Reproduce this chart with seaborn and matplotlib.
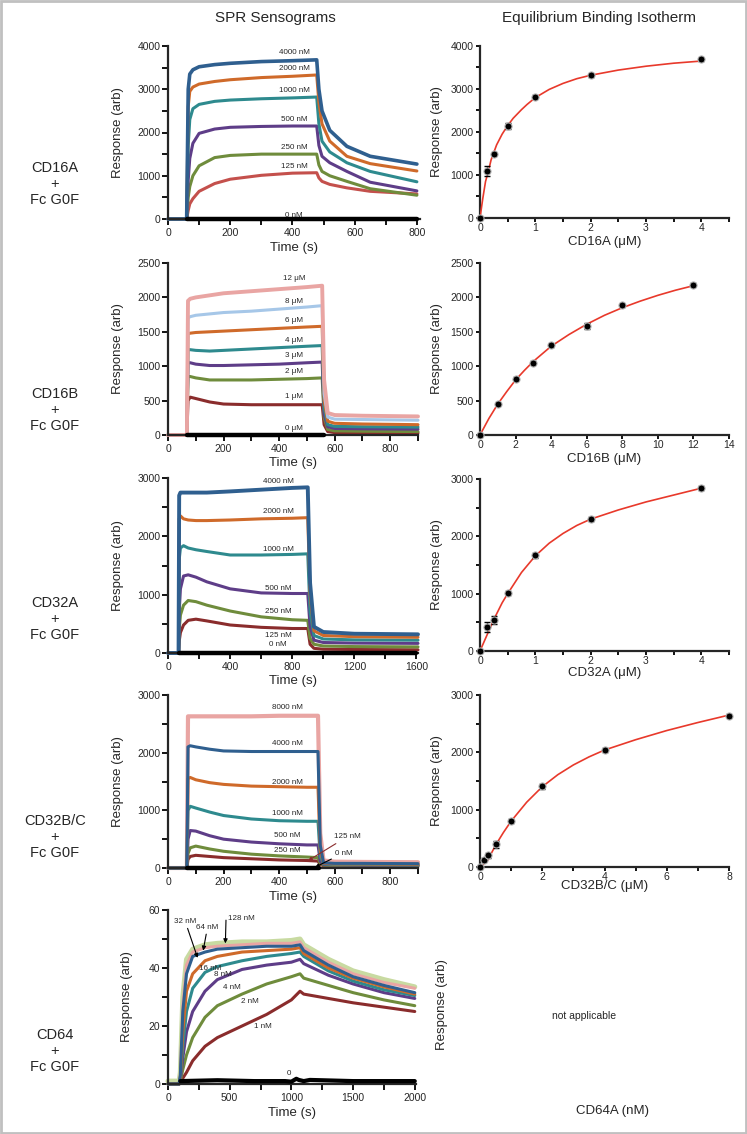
import numpy as np
import matplotlib
matplotlib.use("Agg")
import matplotlib.pyplot as plt
import seaborn as sns
from matplotlib.ticker import MultipleLocator
from matplotlib.patches import Rectangle

# ---- data ----
# CD16A + Fc G0F sensograms (nM)
t_16a = [0, 60, 65, 70, 80, 100, 150, 200, 300, 400, 478, 485, 495, 520, 575, 650, 800]
r_16a_4000 = [0, 0, 3000, 3350, 3450, 3520, 3570, 3600, 3640, 3660, 3680, 3000, 2500, 2050, 1680, 1450, 1270]
r_16a_2000 = [0, 0, 2600, 2950, 3050, 3120, 3180, 3220, 3270, 3300, 3330, 2700, 2200, 1800, 1450, 1280, 1110]
r_16a_1000 = [0, 0, 1700, 2300, 2550, 2650, 2720, 2750, 2780, 2800, 2820, 2200, 1800, 1550, 1300, 1100, 860]
r_16a_500 = [0, 0, 900, 1400, 1750, 1980, 2080, 2120, 2140, 2150, 2150, 1700, 1450, 1300, 1100, 850, 650]
r_16a_250 = [0, 0, 500, 750, 1000, 1230, 1420, 1470, 1500, 1500, 1500, 1250, 1100, 1000, 870, 700, 550]
r_16a_125 = [0, 0, 200, 350, 470, 640, 820, 920, 1010, 1060, 1070, 950, 870, 800, 720, 640, 580]
lab_16a = ["4000 nM", "2000 nM", "1000 nM", "500 nM", "250 nM", "125 nM", "0 nM"]
lab_16a_y = [3860, 3480, 2980, 2290, 1645, 1205, 85]

# CD16B + Fc G0F sensograms (uM)
t_16b = [0, 68, 72, 80, 100, 150, 200, 300, 400, 500, 555, 562, 575, 600, 700, 900]
r_16b_12 = [0, 0, 1950, 1980, 2000, 2030, 2060, 2090, 2120, 2150, 2170, 800, 320, 290, 280, 270]
r_16b_8 = [0, 0, 1700, 1720, 1740, 1760, 1780, 1800, 1830, 1860, 1880, 600, 260, 230, 225, 215]
r_16b_6 = [0, 0, 1470, 1480, 1490, 1500, 1510, 1530, 1550, 1570, 1580, 500, 200, 170, 160, 150]
r_16b_4 = [0, 0, 1240, 1240, 1230, 1220, 1230, 1250, 1270, 1290, 1300, 400, 150, 125, 120, 115]
r_16b_3 = [0, 0, 1050, 1050, 1030, 1010, 1010, 1020, 1030, 1050, 1060, 300, 120, 95, 90, 85]
r_16b_2 = [0, 0, 850, 850, 830, 800, 800, 800, 810, 820, 830, 250, 80, 60, 55, 50]
r_16b_1 = [0, 0, 500, 550, 530, 480, 450, 440, 440, 440, 440, 150, 50, 35, 30, 30]
lab_16b = ["12 \u03bcM", "8 \u03bcM", "6 \u03bcM", "4 \u03bcM", "3 \u03bcM", "2 \u03bcM", "1 \u03bcM", "0 \u03bcM"]
lab_16b_y = [2280, 1935, 1670, 1380, 1150, 920, 560, 100]

# CD32A + Fc G0F sensograms (nM)
t_32a = [0, 68, 72, 80, 100, 130, 180, 250, 400, 600, 800, 900, 915, 940, 1000, 1200, 1610]
r_32a_4000 = [0, 0, 2700, 2750, 2750, 2750, 2750, 2750, 2770, 2800, 2830, 2840, 1200, 450, 360, 330, 320]
r_32a_2000 = [0, 0, 2300, 2350, 2300, 2280, 2270, 2270, 2280, 2300, 2310, 2320, 1000, 380, 300, 280, 270]
r_32a_1000 = [0, 0, 1600, 1800, 1840, 1800, 1770, 1740, 1680, 1680, 1690, 1700, 700, 300, 240, 225, 220]
r_32a_500 = [0, 0, 700, 1100, 1320, 1340, 1300, 1220, 1100, 1030, 1020, 1020, 450, 220, 180, 170, 165]
r_32a_250 = [0, 0, 400, 650, 820, 900, 880, 820, 720, 620, 570, 560, 250, 150, 120, 110, 105]
r_32a_125 = [0, 0, 200, 350, 480, 560, 580, 550, 480, 440, 420, 420, 150, 80, 65, 60, 55]
lab_32a = ["4000 nM", "2000 nM", "1000 nM", "500 nM", "250 nM", "125 nM", "0 nM"]
lab_32a_y = [2940, 2430, 1770, 1110, 710, 300, 140]

# CD32B/C + Fc G0F sensograms (nM)
t_32b = [0, 68, 72, 80, 100, 150, 200, 300, 400, 500, 540, 548, 560, 600, 700, 900]
r_32b_8000 = [0, 0, 2630, 2630, 2630, 2630, 2630, 2630, 2640, 2640, 2640, 600, 130, 110, 105, 100]
r_32b_4000 = [0, 0, 2100, 2120, 2100, 2060, 2030, 2020, 2020, 2020, 2020, 400, 90, 80, 80, 75]
r_32b_2000 = [0, 0, 1550, 1570, 1530, 1480, 1450, 1420, 1410, 1400, 1400, 300, 80, 70, 70, 65]
r_32b_1000 = [0, 0, 1000, 1070, 1040, 970, 910, 850, 820, 810, 810, 200, 70, 60, 60, 55]
r_32b_500 = [0, 0, 500, 650, 640, 560, 500, 450, 420, 400, 400, 120, 60, 55, 50, 50]
r_32b_250 = [0, 0, 250, 350, 380, 330, 290, 240, 210, 190, 180, 80, 50, 45, 45, 40]
r_32b_125 = [0, 0, 150, 200, 220, 200, 180, 160, 140, 130, 120, 60, 40, 35, 35, 30]
lab_32b = ["8000 nM", "4000 nM", "2000 nM", "1000 nM", "500 nM", "250 nM"]
lab_32b_y = [2785, 2160, 1490, 950, 555, 310]

# CD64 + Fc G0F sensograms (nM)
t_64 = [0, 90, 100, 120, 150, 200, 300, 400, 600, 800, 1000, 1070, 1100, 1300, 1500, 1750, 2000]
r_64_128 = [1, 1, 4, 30, 43, 46.5, 48, 48.5, 49, 49, 49.5, 50, 48, 43, 39, 36, 33.5]
r_64_64 = [0, 0, 3, 27, 41, 45.5, 47, 47.5, 48, 48.5, 48.5, 49, 47, 42, 38, 35, 33]
r_64_32 = [0, 0, 3, 25, 38, 44, 45.5, 46.5, 47, 47.5, 47.5, 48, 46, 41, 37, 34, 31.5]
r_64_16 = [0, 0, 2, 18, 32, 38, 42.5, 44, 45.5, 46, 46.5, 47, 45, 40, 36.5, 33.5, 31]
r_64_8 = [0, 0, 2, 13, 25, 33, 38.5, 40.5, 42.5, 44, 45, 45.5, 44, 39, 35.5, 32.5, 30.5]
r_64_4 = [0, 0, 1.5, 9, 18, 25, 32, 36, 39.5, 41, 42, 43, 41.5, 37.5, 34.5, 31.5, 29.5]
r_64_2 = [0, 0, 1, 5, 10, 16, 23, 27, 31, 34.5, 37, 38, 36.5, 34, 31.5, 29, 27]
r_64_1 = [0, 0, 0.5, 2, 4, 8, 13, 16, 20, 24, 29, 32, 31, 29.5, 28, 26.5, 25]
t_64_zero = [100, 400, 700, 950, 1000, 1040, 1060, 1100, 1150, 1500, 2000]
r_64_zero = [1, 1.3, 1, 1, 0.8, 1.8, 1.4, 1, 1.4, 1, 1]

# equilibrium binding isotherms
c_16a = [0, 0.125, 0.25, 0.5, 1, 2, 4]
eq_16a = [0, 1090, 1490, 2130, 2820, 3320, 3690]
err_16a = [0, 120, 30, 70, 40, 30, 30]
fit_x_16a = [0, 0.05, 0.1, 0.15, 0.2, 0.3, 0.4, 0.5, 0.6, 0.75, 0.85, 1, 1.25,
             1.5, 1.75, 2, 2.5, 3, 3.5, 4]
fit_y_16a = [0, 450, 850, 1080, 1350, 1700, 1950, 2150, 2320, 2520, 2640, 2800,
             2990, 3130, 3240, 3320, 3440, 3530, 3600, 3650]

c_16b = [0, 1, 2, 3, 4, 6, 8, 12]
eq_16b = [0, 450, 820, 1050, 1305, 1585, 1885, 2185]
err_16b = [0, 20, 20, 20, 20, 40, 20, 25]
fit_x_16b = [0, 0.5, 1, 1.5, 2, 2.5, 3, 4, 5, 6, 7, 8, 9, 10, 11, 12]
fit_y_16b = [0, 240, 450, 630, 800, 940, 1070, 1290, 1460, 1610, 1740, 1850,
             1945, 2030, 2105, 2170]

c_32a = [0, 0.125, 0.25, 0.5, 1, 2, 4]
eq_32a = [0, 420, 540, 1015, 1670, 2305, 2845]
err_32a = [0, 80, 70, 40, 40, 30, 40]
fit_x_32a = [0, 0.1, 0.25, 0.4, 0.5, 0.75, 1, 1.25, 1.5, 1.75, 2, 2.5, 3, 3.5, 4]
fit_y_32a = [0, 220, 550, 840, 1000, 1370, 1660, 1880, 2050, 2190, 2300, 2460,
             2600, 2720, 2840]

c_32b = [0, 0.125, 0.25, 0.5, 1, 2, 4, 8]
eq_32b = [0, 130, 205, 400, 805, 1405, 2040, 2640]
err_32b = [0, 20, 40, 60, 30, 40, 30, 20]
fit_x_32b = [0, 0.25, 0.5, 0.75, 1, 1.5, 2, 2.5, 3, 3.5, 4, 5, 6, 7, 8]
fit_y_32b = [0, 120, 380, 600, 800, 1130, 1400, 1610, 1780, 1920, 2040, 2220,
             2380, 2520, 2650]

row_labels = ["CD16A\n+\nFc G0F", "CD16B\n+\nFc G0F", "CD32A\n+\nFc G0F",
              "CD32B/C\n+\nFc G0F", "CD64\n+\nFc G0F"]

# ---- colours ----
BLUE, ORANGE, TEAL = "#2f5f8f", "#cf6a2a", "#2e8a8e"
PURPLE, GREEN = "#5e3d88", "#6f8c3c"
RED, DRED = "#c4504c", "#8a2c2c"
PINK, LBLUE, LGREEN = "#e9a5a3", "#a6c7e8", "#c8daa1"
FITRED = "#e8392b"

W, H = 747, 1134
sns.set_style("ticks")
plt.rcParams["font.family"] = ["Liberation Sans", "DejaVu Sans"]
plt.rcParams["axes.linewidth"] = 1.6

fig = plt.figure(figsize=(W / 100, H / 100), dpi=100)


def box(l, t, r, b):
    return [l / W, 1 - b / H, (r - l) / W, (b - t) / H]


def style(ax, xmaj, xmin, ymaj, ymin, pad, tlen=4):
    sns.despine(ax=ax)
    ax.xaxis.set_major_locator(MultipleLocator(xmaj))
    ax.xaxis.set_minor_locator(MultipleLocator(xmin))
    ax.yaxis.set_major_locator(MultipleLocator(ymaj))
    ax.yaxis.set_minor_locator(MultipleLocator(ymin))
    ax.tick_params(which="both", direction="out", length=tlen, width=1.3,
                   labelsize=7.5, color="black", pad=pad)
    ax.tick_params(axis="y", pad=1.5)
    ax.set_facecolor("white")


def labels(ax, xlab, ylab, ylx, xly):
    ax.set_xlabel(xlab, fontsize=9.5)
    ax.set_ylabel(ylab, fontsize=9.5)
    ax.yaxis.set_label_coords(ylx, 0.5)
    ax.xaxis.set_label_coords(0.5, xly)
    ax.xaxis.label.set_va("center")
    ax.yaxis.label.set_va("center")


def sensogram(ax, t, series, lw=2.2):
    for vals, col, w in series:
        sns.lineplot(x=t, y=vals, ax=ax, color=col, lw=w if w else lw,
                     clip_on=False)


def zero_line(ax, t0, t1):
    sns.lineplot(x=[t0, t1], y=[0, 0], ax=ax, color="black", lw=3.2,
                 clip_on=False, zorder=6)


def curve_labels(ax, x, texts, ys):
    for s, y in zip(texts, ys):
        ax.text(x, y, s, fontsize=5.8, ha="center", va="center")


# ---- panel 1: CD16A ----
ax = fig.add_axes(box(168, 46, 420, 219))
sensogram(ax, t_16a, [(r_16a_125, RED, None), (r_16a_250, GREEN, None),
                      (r_16a_500, PURPLE, None), (r_16a_1000, TEAL, None),
                      (r_16a_2000, ORANGE, None), (r_16a_4000, BLUE, 2.6)])
zero_line(ax, 62, 800)
ax.set(xlim=(0, 810), ylim=(0, 4000))
style(ax, 200, 100, 1000, 500, 2.5)
curve_labels(ax, 405, lab_16a, lab_16a_y)
labels(ax, "Time (s)", "Response (arb)", -0.2, -0.17)

# ---- panel 2: CD16B ----
ax = fig.add_axes(box(168, 263, 418, 435))
sensogram(ax, t_16b, [(r_16b_1, DRED, None), (r_16b_2, GREEN, None),
                      (r_16b_3, PURPLE, None), (r_16b_4, TEAL, None),
                      (r_16b_6, ORANGE, None), (r_16b_8, LBLUE, None),
                      (r_16b_12, PINK, 2.8)])
zero_line(ax, 70, 560)
ax.set(xlim=(0, 900), ylim=(0, 2500))
style(ax, 200, 100, 500, 500, 2.5)
curve_labels(ax, 455, lab_16b, lab_16b_y)
labels(ax, "Time (s)", "Response (arb)", -0.2, -0.16)

# ---- panel 3: CD32A ----
ax = fig.add_axes(box(168, 478, 418, 653))
sensogram(ax, t_32a, [(r_32a_125, DRED, None), (r_32a_250, GREEN, None),
                      (r_32a_500, PURPLE, None), (r_32a_1000, TEAL, None),
                      (r_32a_2000, ORANGE, None), (r_32a_4000, BLUE, 2.8)])
zero_line(ax, 70, 1600)
ax.set(xlim=(0, 1610), ylim=(0, 3000))
style(ax, 400, 200, 1000, 500, 2.5)
curve_labels(ax, 710, lab_32a, lab_32a_y)
labels(ax, "Time (s)", "Response (arb)", -0.2, -0.16)

# ---- panel 4: CD32B/C ----
ax = fig.add_axes(box(168, 695, 418, 868))
sensogram(ax, t_32b, [(r_32b_8000, PINK, 3.0), (r_32b_125, DRED, None),
                      (r_32b_250, GREEN, None), (r_32b_500, PURPLE, None),
                      (r_32b_1000, TEAL, None), (r_32b_2000, ORANGE, None),
                      (r_32b_4000, BLUE, None)])
zero_line(ax, 70, 545)
ax.set(xlim=(0, 900), ylim=(0, 3000))
style(ax, 200, 100, 1000, 500, 2.5)
curve_labels(ax, 430, lab_32b, lab_32b_y)
ax.annotate("125 nM", xy=(505, 130), xytext=(596, 540), fontsize=5.8,
            ha="left", va="center",
            arrowprops=dict(arrowstyle="-|>", color=DRED, lw=0.8,
                            mutation_scale=5, shrinkA=0, shrinkB=0))
ax.annotate("0 nM", xy=(530, 15), xytext=(600, 260), fontsize=5.8,
            ha="left", va="center",
            arrowprops=dict(arrowstyle="-|>", color="black", lw=0.8,
                            mutation_scale=5, shrinkA=0, shrinkB=0))
labels(ax, "Time (s)", "Response (arb)", -0.2, -0.17)

# ---- panel 5: CD64 ----
ax = fig.add_axes(box(168, 910, 416, 1084))
sensogram(ax, t_64, [(r_64_128, LGREEN, 3.6), (r_64_64, PINK, None),
                     (r_64_1, DRED, None), (r_64_2, GREEN, None),
                     (r_64_4, PURPLE, None), (r_64_8, TEAL, None),
                     (r_64_16, ORANGE, None), (r_64_32, BLUE, None)])
sns.lineplot(x=t_64_zero, y=r_64_zero, ax=ax, color="black", lw=3.0,
             clip_on=False, zorder=6)
ax.set(xlim=(0, 2010), ylim=(0, 60))
style(ax, 500, 250, 20, 10, 2.5)
for s, x, y in [("16 nM", 340, 40), ("8 nM", 447, 37.6), ("4 nM", 520, 33.4),
                ("2 nM", 667, 28.3), ("1 nM", 772, 20), ("0", 984, 3.7)]:
    ax.text(x, y, s, fontsize=5.8, ha="center", va="center")
arrow = dict(arrowstyle="-|>", color="black", lw=0.8, mutation_scale=6,
             shrinkA=0, shrinkB=0)
ax.annotate("32 nM", xy=(240, 43.5), xytext=(140, 56), fontsize=5.8,
            ha="center", va="center", arrowprops=arrow)
ax.annotate("64 nM", xy=(285, 46), xytext=(320, 54), fontsize=5.8,
            ha="center", va="center", arrowprops=arrow)
ax.annotate("", xy=(465, 48.5), xytext=(470, 56.5), arrowprops=arrow)
ax.text(485, 57, "128 nM", fontsize=5.8, ha="left", va="center")
labels(ax, "Time (s)", "Response (arb)", -0.165, -0.165)

# ---- isotherms ----
iso = [
    (box(480, 46, 729, 218), c_16a, eq_16a, err_16a, fit_x_16a, fit_y_16a,
     (0, 4.5), (0, 4000), (1, 0.5, 1000, 500), "CD16A (\u03bcM)", -0.137),
    (box(480, 263, 729, 435), c_16b, eq_16b, err_16b, fit_x_16b, fit_y_16b,
     (0, 14), (0, 2500), (2, 2, 500, 500), "CD16B (\u03bcM)", -0.137),
    (box(480, 479, 729, 651), c_32a, eq_32a, err_32a, fit_x_32a, fit_y_32a,
     (0, 4.5), (0, 3000), (1, 0.5, 1000, 500), "CD32A (\u03bcM)", -0.127),
    (box(480, 695, 729, 867), c_32b, eq_32b, err_32b, fit_x_32b, fit_y_32b,
     (0, 8), (0, 3000), (2, 1, 1000, 500), "CD32B/C (\u03bcM)", -0.11),
]
for rect, cx, cy, ce, fx, fy, xl, yl, loc, xlab, xly in iso:
    ax = fig.add_axes(rect)
    sns.lineplot(x=fx, y=fy, ax=ax, color=FITRED, lw=1.2, zorder=3)
    ax.errorbar(cx, cy, yerr=ce, fmt="none", ecolor="black", elinewidth=1,
                capsize=2, zorder=4)
    sns.scatterplot(x=cx, y=cy, ax=ax, color="black", s=26,
                    edgecolor="#b0b0b0", linewidth=0.8, zorder=5, clip_on=False)
    ax.set(xlim=xl, ylim=yl)
    style(ax, *loc, 0.3, tlen=3)
    labels(ax, xlab, "Response (arb)", -0.173, xly)

# CD64 isotherm: not applicable
fig.text(442 / W, 1 - 1005 / H, "Response (arb)", rotation=90, fontsize=9.5,
         ha="center", va="center")
fig.text(584 / W, 1 - 1016 / H, "not applicable", fontsize=7.5,
         ha="center", va="center")
fig.text(613 / W, 1 - 1111 / H, "CD64A (nM)", fontsize=9.5,
         ha="center", va="center")

# column titles and row labels
fig.text(275 / W, 1 - 18 / H, "SPR Sensograms", fontsize=11, ha="center",
         va="center")
fig.text(599 / W, 1 - 18 / H, "Equilibrium Binding Isotherm", fontsize=11,
         ha="center", va="center")
for s, y in zip(row_labels, [184, 410, 619, 837, 1051]):
    fig.text(55 / W, 1 - y / H, s, fontsize=10.5, ha="center", va="center",
             linespacing=1.15)

# light grey frame
fig.patches.append(Rectangle((0.001, 0.001), 0.998, 0.998,
                             transform=fig.transFigure, fill=False,
                             edgecolor="#c0c0c0", lw=2))

fig.savefig("out.png", dpi=100)
